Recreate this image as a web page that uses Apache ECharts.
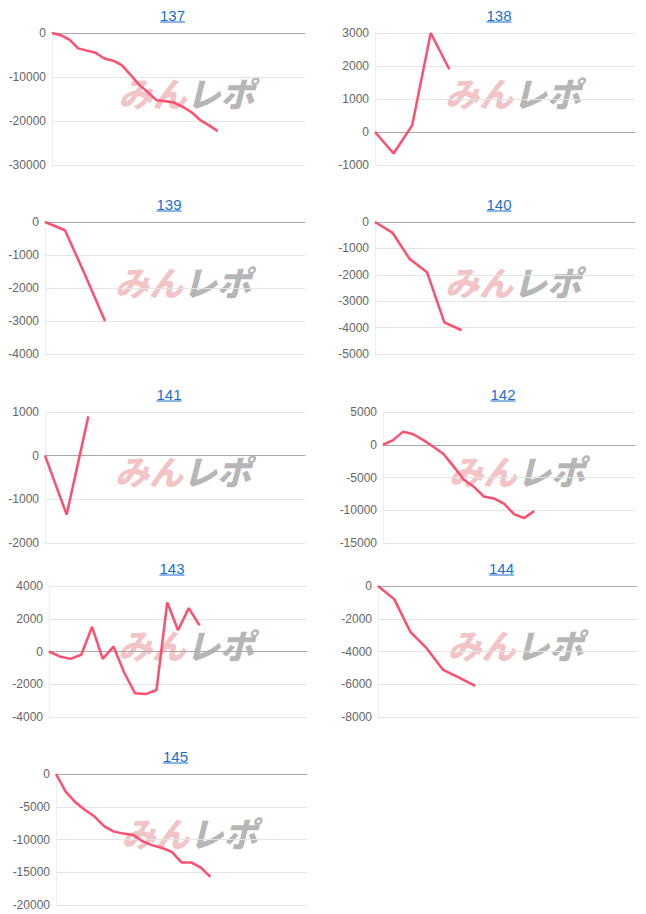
<!DOCTYPE html>
<html>
<head>
<meta charset="utf-8">
<script src="https://cdn.jsdelivr.net/npm/echarts@6/dist/echarts.min.js"></script>
<style>
body { margin: 0; background: #fff; font-family: Arial, "Liberation Sans", sans-serif; }
#wrap { position: relative; width: 646px; height: 914px; }
#chart { position: absolute; left: 0; top: 0; width: 646px; height: 914px; }
.ttl { position: absolute; font-size: 15px; color: #1a6fd0; text-decoration: underline; transform: translate(-50%, -50%); }
</style>
</head>
<body>
<div id="wrap"><div id="chart"></div></div>
<script>
const names = ['137', '138', '139', '140', '141', '142', '143', '144', '145'];
const counts = [30, 15, 14, 16, 13, 26, 25, 17, 27];
const s137 = [0, -500, -1500, -3500, -4000, -4500, -5800, -6300, -7300, -9500, -11800, -13500, -15300, -15500, -15800, -16800, -18000, -19800, -21000, -22300];
const s138 = [0, -650, 200, 3000, 1900];
const s139 = [0, -250, -1600, -3000];
const s140 = [0, -400, -1400, -1900, -3800, -4100];
const s141 = [0, -1350, 900];
const s142 = [0, 700, 2000, 1600, 700, -300, -1400, -3300, -5300, -6400, -7900, -8200, -9000, -10600, -11200, -10100];
const s143 = [0, -300, -450, -200, 1500, -450, 300, -1300, -2550, -2600, -2350, 3000, 1300, 2650, 1600];
const s144 = [0, -800, -2800, -3800, -5100, -5600, -6100];
const s145 = [0, -2700, -4300, -5500, -6500, -8000, -8800, -9100, -9300, -10300, -10900, -11300, -11900, -13500, -13500, -14300, -15700];
const series = [s137, s138, s139, s140, s141, s142, s143, s144, s145];
const yMin = [-30000, -1000, -4000, -5000, -2000, -15000, -4000, -8000, -20000];
const yMax = [0, 3000, 0, 0, 1000, 5000, 4000, 0, 0];
const yStep = [10000, 1000, 1000, 1000, 1000, 5000, 2000, 2000, 5000];

// plot boxes: left, top, right, bottom (px)
const boxes = [
    [52, 33, 305, 165], [375, 33, 635, 165],
    [45, 222, 305, 354], [375, 222, 635, 354],
    [45, 412, 305, 543], [383, 412, 635, 543],
    [49, 586, 307, 717], [378, 586, 637, 717],
    [56, 774, 307, 905],
];

const wrap = document.getElementById('wrap');
boxes.forEach((b, i) => {
    const a = document.createElement('a');
    a.className = 'ttl';
    a.textContent = names[i];
    a.style.left = ((b[0] + b[2]) / 2 - 6) + 'px';
    a.style.top = (b[1] - 18) + 'px';
    wrap.append(a);
});

const chart = echarts.init(document.getElementById('chart'), null, {renderer: 'svg'});
const wmFont = 'italic 900 34px "Noto Sans CJK JP"';
const graphic = boxes.map(b => ({
    type: 'text',
    left: (b[0] + b[2]) / 2 - 60,
    top: (b[1] + b[3]) / 2 - 24,
    z: 0,
    style: {
        text: '{a|みん}{b|レポ}',
        rich: {
            a: {font: wmFont, fill: 'rgba(222,100,105,0.4)'},
            b: {font: wmFont, fill: 'rgba(110,110,110,0.5)'},
        },
    },
}));

chart.setOption({
    animation: false,
    graphic,
    grid: boxes.map(b => ({left: b[0], top: b[1], width: b[2] - b[0], height: b[3] - b[1]})),
    xAxis: boxes.map((b, i) => ({
        type: 'category',
        gridIndex: i,
        boundaryGap: false,
        data: Array.from({length: counts[i]}, (_, k) => k),
        axisLabel: {show: false},
        axisTick: {show: false},
        axisLine: {onZero: true, lineStyle: {color: '#aaa'}},
        splitLine: {show: false},
    })),
    yAxis: boxes.map((b, i) => ({
        type: 'value',
        gridIndex: i,
        min: yMin[i],
        max: yMax[i],
        interval: yStep[i],
        axisLine: {show: true, lineStyle: {color: '#eee'}},
        axisTick: {show: false},
        axisLabel: {color: '#666', fontSize: 12, margin: 6, formatter: v => String(v)},
        splitLine: {lineStyle: {color: '#e4e4e4'}},
    })),
    series: series.map((d, i) => ({
        type: 'line',
        xAxisIndex: i,
        yAxisIndex: i,
        data: d,
        showSymbol: false,
        z: 5,
        lineStyle: {color: '#fd4f6e', width: 2.5},
    })),
});
</script>
</body>
</html>
